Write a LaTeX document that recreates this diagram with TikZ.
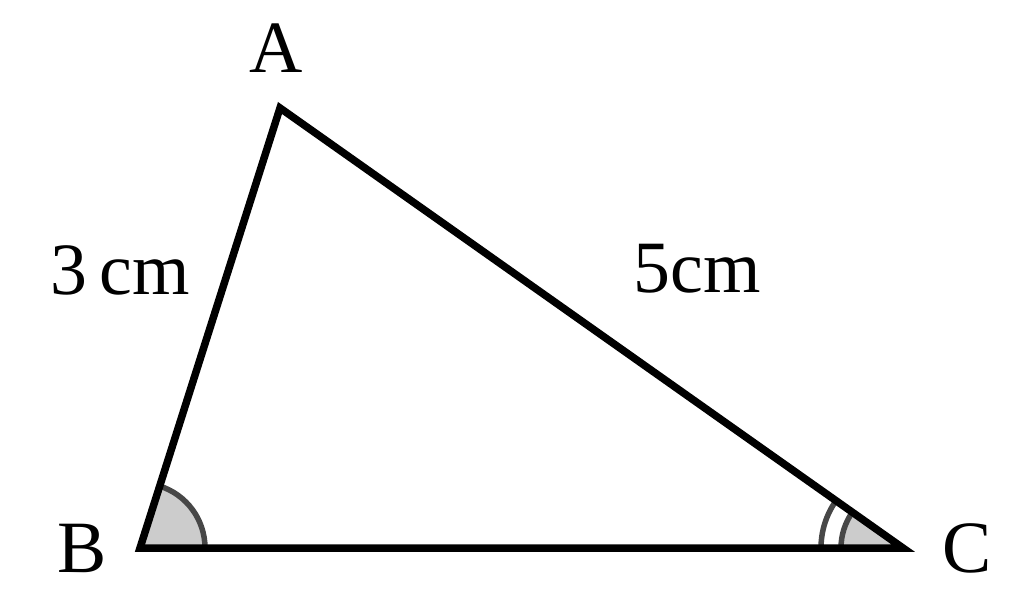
\documentclass[tikz,border=0pt]{standalone}
\usepackage{fontspec}
\setmainfont{Liberation Serif}
\begin{document}
\begin{tikzpicture}[x=0.02cm,y=-0.02cm,
  side/.style={line width=7.5*0.02cm, line join=miter, line cap=round},
  arcmark/.style={draw=black!72, line width=5.5*0.02cm},
  lbl/.style={font=\fontsize{42}{48}\selectfont, inner sep=0pt}]
\useasboundingbox (0,0) rectangle (1024,615);
\coordinate (A) at (280,108);
\coordinate (B) at (140,548);
\coordinate (C) at (903,548);
% angle B
\fill[black!20] (B) -- ++(0:65) arc[start angle=0, end angle=-72.35, radius=65] -- cycle;
\draw[arcmark] (B) ++(0:65) arc[start angle=0, end angle=-72.35, radius=65];
% angle C
\fill[black!20] (C) -- ++(180:62) arc[start angle=180, end angle=215.23, radius=62] -- cycle;
\draw[arcmark] (C) ++(180:62) arc[start angle=180, end angle=215.23, radius=62];
\draw[arcmark] (C) ++(180:82) arc[start angle=180, end angle=215.23, radius=82];
\draw[side] (A) -- (B) -- (C) -- cycle;
\node[lbl] (la) at (276,48) {A};
\node[lbl] (lb) at (82,548) {B};
\node[lbl] (lc) at (967,548) {C};
\node[lbl] (l3) at (120,270) {3\,cm};
\node[lbl] (l5) at (697,269) {5cm};
\end{tikzpicture}
\end{document}
